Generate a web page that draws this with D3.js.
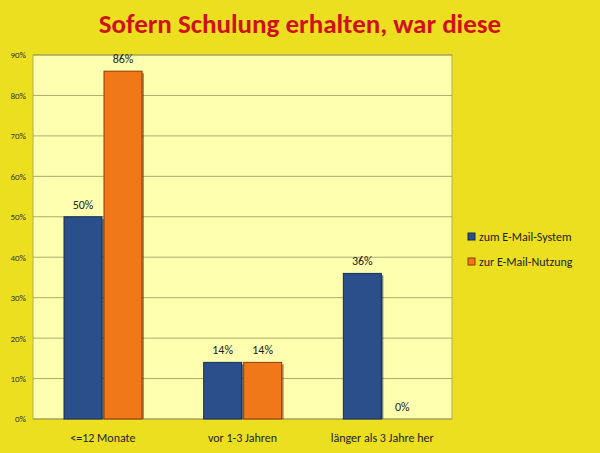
<!DOCTYPE html>
<html lang="de">
<head>
<meta charset="UTF-8">
<script src="https://d3js.org/d3.v7.min.js"></script>
<style>
  body { margin: 0; background: #ebdf1f; }
  text { font-family: Carlito, Calibri, "Open Sans", sans-serif; }
  .axis path, .axis line { stroke: none; }
  .axis text { font-size: 9px; fill: #333; }
  .xaxis text { font-size: 12px; fill: #222; }
</style>
</head>
<body>
<script>
const categories = ["<=12 Monate", "vor 1-3 Jahren", "länger als 3 Jahre her"];
const series = ["zum E-Mail-System", "zur E-Mail-Nutzung"];
const system = [50, 14, 36];
const nutzung = [86, 14, 0];
const yTicks = [0, 10, 20, 30, 40, 50, 60, 70, 80, 90];
const colors = ["#2a4f8a", "#f07818"];
const darks = ["#162c52", "#8a3c06"];

const width = 600, height = 453;
const mLeft = 33, mRight = 452, mTop = 55, mBottom = 419;

const svg = d3.select("body").append("svg")
  .attr("width", width).attr("height", height);

svg.append("rect").attr("width", width).attr("height", height).attr("fill", "#ebdf1f");

svg.append("text").attr("x", 300).attr("y", 33).attr("text-anchor", "middle")
  .attr("fill", "#d0101a").attr("font-size", 27).attr("font-weight", "bold")
  .text("Sofern Schulung erhalten, war diese");

const x = d3.scaleBand().domain(categories).range([mLeft, mRight]);
const xs = d3.scaleBand().domain(series).range([31, 109]).paddingInner(0.05);
const y = d3.scaleLinear().domain([0, 90]).range([mBottom, mTop]);

svg.append("rect").attr("x", mLeft).attr("y", mTop).attr("width", mRight - mLeft)
  .attr("height", mBottom - mTop).attr("fill", "#ffffb0").attr("stroke", "#b8b060");

svg.append("g").selectAll("line").data(yTicks).join("line")
  .attr("x1", mLeft).attr("x2", mRight)
  .attr("y1", d => y(d)).attr("y2", d => y(d))
  .attr("stroke", "#8a8550").attr("stroke-width", 0.7);

svg.append("g").attr("class", "axis").attr("transform", `translate(${mLeft - 4},0)`)
  .call(d3.axisLeft(y).tickValues(yTicks).tickFormat(d => d + "%").tickSize(0));

svg.append("g").attr("class", "axis xaxis").attr("transform", `translate(0,${mBottom + 6})`)
  .call(d3.axisBottom(x).tickSize(0).tickPadding(8));

const data = [system, nutzung];
data.forEach((vals, si) => {
  const g = svg.append("g");
  categories.forEach((c, i) => {
    const bx = x(c) + xs(series[si]);
    const bw = xs.bandwidth();
    if (vals[i] > 0) {
      g.append("rect").attr("x", bx + 2).attr("y", y(vals[i]) + 2)
        .attr("width", bw).attr("height", y(0) - y(vals[i]) - 2).attr("fill", darks[si]).attr("opacity", 0.6);
      g.append("rect").attr("x", bx).attr("y", y(vals[i]))
        .attr("width", bw).attr("height", y(0) - y(vals[i]))
        .attr("fill", colors[si]).attr("stroke", darks[si]).attr("stroke-width", 1);
    }
    g.append("text").attr("x", bx + bw / 2).attr("y", y(vals[i]) - 8)
      .attr("text-anchor", "middle").attr("font-size", 12).attr("fill", "#222")
      .text(vals[i] + "%");
  });
});

const legend = svg.append("g").attr("transform", "translate(468,237)");
series.forEach((s, i) => {
  legend.append("rect").attr("x", 0).attr("y", i * 25 - 4).attr("width", 7).attr("height", 7)
    .attr("fill", colors[i]).attr("stroke", darks[i]);
  legend.append("text").attr("x", 11).attr("y", i * 25 + 3.5).attr("font-size", 12)
    .attr("fill", "#222").text(s);
});
</script>
</body>
</html>
